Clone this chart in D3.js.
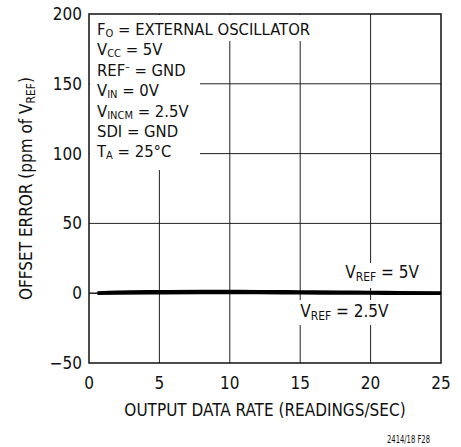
<!DOCTYPE html>
<html>
<head>
<meta charset="utf-8">
<script src="https://cdn.jsdelivr.net/npm/d3@7"></script>
<style>
  body { margin: 0; background: #fff; }
  text { font-family: "Liberation Sans Narrow", "DejaVu Sans Condensed", "Roboto Condensed", sans-serif; fill: #111; }
</style>
</head>
<body>
<div id="chart"></div>
<script>
// Data
const xTicks = [0, 5, 10, 15, 20, 25];
const yTicks = [-50, 0, 50, 100, 150, 200];
const yTickLabels = ["\u221250", "0", "50", "100", "150", "200"];

const rateVref5 = [0.6, 2, 5, 8, 10, 12, 15, 18, 20, 22, 25];
const errVref5 = [0.4, 0.9, 1.2, 1.4, 1.4, 1.3, 1.1, 0.9, 0.7, 0.5, 0.3];
const rateVref25 = [0.6, 2, 5, 8, 10, 12, 15, 18, 20, 22, 25];
const errVref25 = [-0.3, 0.0, 0.2, 0.3, 0.3, 0.3, 0.1, 0.0, -0.1, -0.2, -0.3];

const conditions = [
  ["F", "O", " = EXTERNAL OSCILLATOR"],
  ["V", "CC", " = 5V"],
  ["REF", "\u2013sup", " = GND"],
  ["V", "IN", " = 0V"],
  ["V", "INCM", " = 2.5V"],
  ["SDI = GND", "", ""],
  ["T", "A", " = 25\u00b0C"]
];

const margin = { top: 14, right: 20, bottom: 84, left: 89 };
const width = 461, height = 447;
const plotW = 441 - margin.left;
const plotH = 363 - margin.top;
const fs = 17;

const svg = d3.select("#chart").append("svg")
  .attr("width", width)
  .attr("height", height);

const g = svg.append("g")
  .attr("transform", `translate(${margin.left},${margin.top})`);

const x = d3.scaleLinear().domain([0, 25]).range([0, plotW]);
const y = d3.scaleLinear().domain([-50, 200]).range([plotH, 0]);

// grid
g.selectAll(".vgrid")
  .data(xTicks.slice(1, -1))
  .enter().append("line")
  .attr("x1", d => x(d)).attr("x2", d => x(d))
  .attr("y1", 0).attr("y2", plotH)
  .attr("stroke", "#222").attr("stroke-width", 1);

g.selectAll(".hgrid")
  .data(yTicks.slice(1, -1))
  .enter().append("line")
  .attr("x1", 0).attr("x2", plotW)
  .attr("y1", d => y(d)).attr("y2", d => y(d))
  .attr("stroke", "#222").attr("stroke-width", 1);

// white masks behind the annotations
g.append("rect").attr("x", 1).attr("y", 1).attr("width", 229).attr("height", 26).attr("fill", "#fff");
g.append("rect").attr("x", 1).attr("y", 1).attr("width", 110).attr("height", 155).attr("fill", "#fff");
g.append("rect").attr("x", x(18.1)).attr("y", 249).attr("width", 75).attr("height", 25).attr("fill", "#fff");
g.append("rect").attr("x", x(14.9)).attr("y", 286).attr("width", 90).attr("height", 25).attr("fill", "#fff");

// frame
g.append("rect")
  .attr("width", plotW).attr("height", plotH)
  .attr("fill", "none").attr("stroke", "#111").attr("stroke-width", 1.5);

// small tick stub at zero
g.append("line")
  .attr("x1", 0).attr("x2", x(0.6)).attr("y1", y(0)).attr("y2", y(0))
  .attr("stroke", "#111").attr("stroke-width", 1);

// curves
const line = d3.line().x(d => x(d[0])).y(d => y(d[1])).curve(d3.curveMonotoneX);
g.append("path")
  .datum(d3.zip(rateVref5, errVref5))
  .attr("d", line).attr("fill", "none").attr("stroke", "#000").attr("stroke-width", 3);
g.append("path")
  .datum(d3.zip(rateVref25, errVref25))
  .attr("d", line).attr("fill", "none").attr("stroke", "#000").attr("stroke-width", 3);

// axes labels
g.selectAll(".xtick")
  .data(xTicks)
  .enter().append("text")
  .attr("x", d => x(d)).attr("y", plotH + 26)
  .attr("text-anchor", "middle")
  .attr("font-size", fs)
  .text(d => d);

g.selectAll(".ytick")
  .data(yTicks)
  .enter().append("text")
  .attr("x", -7).attr("y", d => y(d) + 6)
  .attr("text-anchor", "end")
  .attr("font-size", fs)
  .text((d, i) => yTickLabels[i]);

svg.append("text")
  .attr("x", 265).attr("y", 416)
  .attr("text-anchor", "middle")
  .attr("font-size", fs)
  .text("OUTPUT DATA RATE (READINGS/SEC)");

const yTitle = svg.append("text")
  .attr("transform", `translate(32,${margin.top + plotH / 2}) rotate(-90)`)
  .attr("text-anchor", "middle")
  .attr("font-size", fs);
yTitle.append("tspan").text("OFFSET ERROR (ppm of V");
yTitle.append("tspan").attr("font-size", 12).attr("dy", 3).text("REF");
yTitle.append("tspan").attr("dy", -3).text(")");

// conditions block
conditions.forEach((c, i) => {
  const t = g.append("text")
    .attr("x", 8).attr("y", 21 + i * 20.4)
    .attr("font-size", 16.5);
  t.append("tspan").text(c[0]);
  if (c[1] === "\u2013sup") {
    t.append("tspan").attr("font-size", 10).attr("dy", -6).text("\u2013");
    t.append("tspan").attr("dy", 6).text(c[2]);
  } else if (c[1]) {
    t.append("tspan").attr("font-size", 11).attr("dy", 2).text(c[1]);
    t.append("tspan").attr("dy", -2).text(c[2]);
  }
});

// series labels
function vrefLabel(px, py, val) {
  const t = g.append("text").attr("x", px).attr("y", py).attr("font-size", fs);
  t.append("tspan").text("V");
  t.append("tspan").attr("font-size", 12).attr("dy", 3).text("REF");
  t.append("tspan").attr("dy", -3).text(" = " + val);
}
vrefLabel(x(18.2), 264, "5V");
vrefLabel(x(15), 303, "2.5V");

svg.append("text")
  .attr("x", 430).attr("y", 443)
  .attr("text-anchor", "end")
  .attr("font-size", 11)
  .attr("textLength", 43)
  .attr("lengthAdjust", "spacingAndGlyphs")
  .text("2414/18 F28");
</script>
</body>
</html>
